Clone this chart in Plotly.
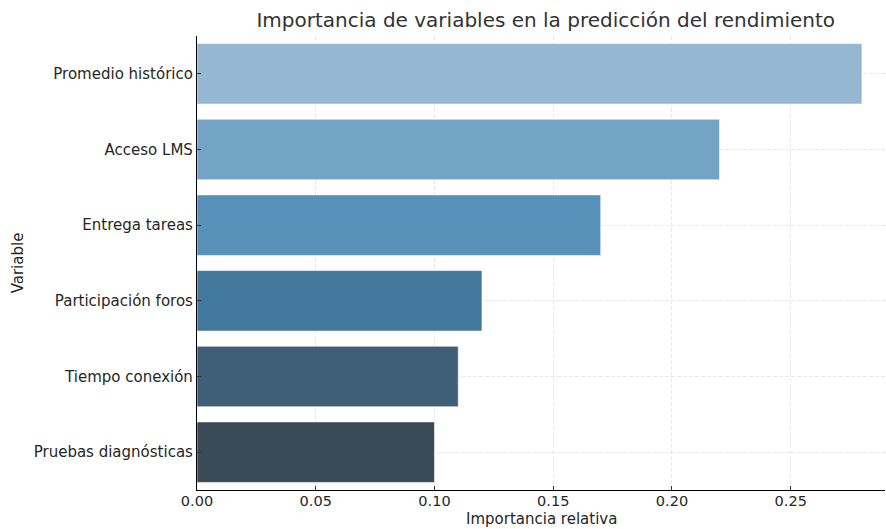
import plotly.graph_objects as go

variables = ["Promedio histórico", "Acceso LMS", "Entrega tareas",
             "Participación foros", "Tiempo conexión", "Pruebas diagnósticas"]
importancia = [0.28, 0.22, 0.17, 0.12, 0.11, 0.10]
colores = ["#95b7d1", "#73a4c5", "#5790b9", "#43789d", "#3f5e78", "#3a4a57"]
x_ticks = [0.00, 0.05, 0.10, 0.15, 0.20, 0.25]
x_tick_labels = ["0.00", "0.05", "0.10", "0.15", "0.20", "0.25"]
x_title = "Importancia relativa"

fig = go.Figure()
fig.add_trace(go.Bar(
    x=importancia, y=variables, orientation="h",
    marker=dict(color=colores, line=dict(color="rgba(255,255,255,0.6)", width=1)),
    width=0.8,
))

fig.update_layout(
    width=886, height=529,
    margin=dict(l=197, r=1, t=36, b=39, autoexpand=False),
    paper_bgcolor="white", plot_bgcolor="white",
    font=dict(family="DejaVu Sans", color="#262626", size=15),
    title=dict(text="Importancia de variables en la predicción del rendimiento",
               x=0.616, xanchor="center", y=0.962, yanchor="middle",
               font=dict(size=20, color="#333333")),
    showlegend=False,
    bargap=0.2,
)
fig.add_annotation(
    text=x_title, xref="paper", yref="paper", x=0.5, y=0,
    xanchor="center", yanchor="top", yshift=-19, showarrow=False,
    borderpad=0, font=dict(size=15, color="#262626"),
)
fig.update_xaxes(
    range=[0, 0.2897], tickvals=x_ticks, ticktext=x_tick_labels,
    showgrid=True, gridcolor="#e8e8e8", griddash="4px,2px", gridwidth=1,
    showline=True, linecolor="black", linewidth=1.2,
    ticks="inside", ticklen=4, tickcolor="#333333",
    tickfont=dict(size=14.5, color="#262626"),
    ticklabelstandoff=-3,
    zeroline=False, automargin=False,
)
fig.update_yaxes(
    categoryorder="array", categoryarray=variables, autorange="reversed",
    showgrid=True, gridcolor="#e8e8e8", griddash="4px,2px", gridwidth=1,
    showline=True, linecolor="black", linewidth=1.2,
    ticks="inside", ticklen=4, tickcolor="#333333",
    tickfont=dict(size=15, color="#262626"),
    title=dict(text="Variable", font=dict(size=15), standoff=6),
    automargin=False,
)

fig.write_html("out.html",
               config={"displayModeBar": False},
               post_script="document.body.style.margin='0';document.body.style.padding='0';")
